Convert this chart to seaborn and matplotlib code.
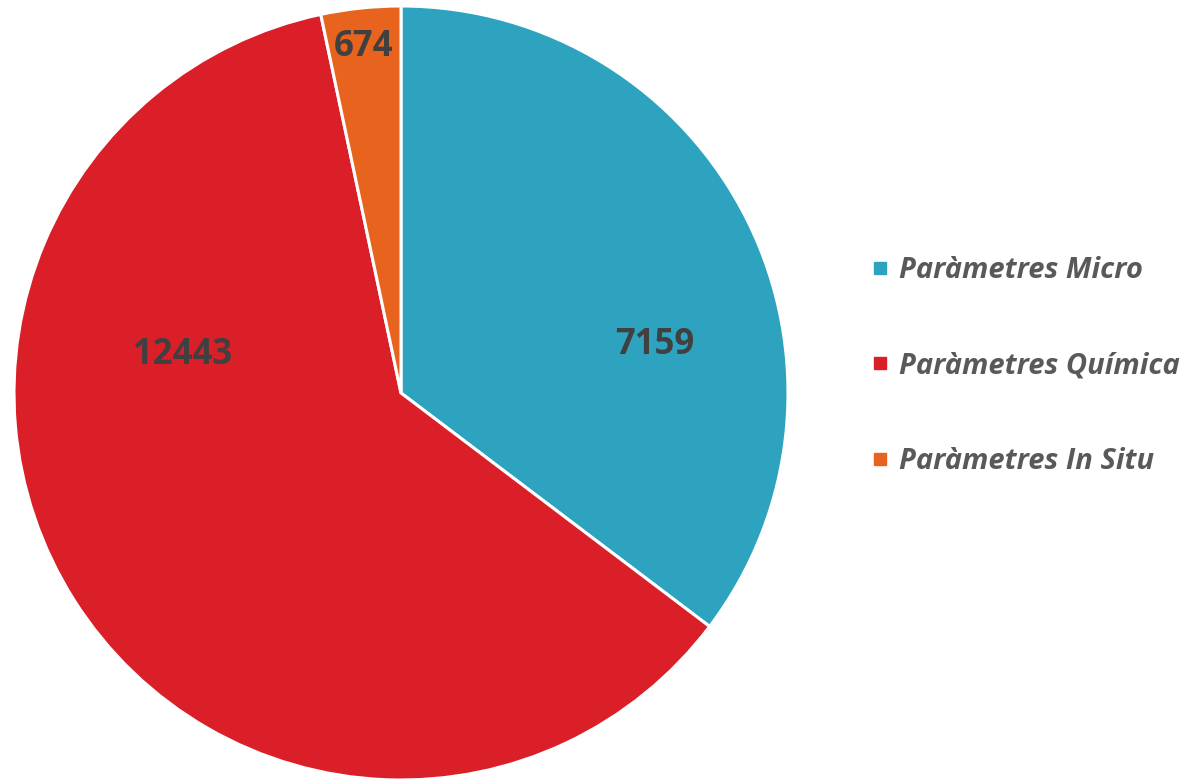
import matplotlib
matplotlib.use("Agg")
import matplotlib.pyplot as plt
from matplotlib.lines import Line2D
import seaborn as sns

# ==================================================
# DATA
# ==================================================
categories = ["Paràmetres Micro", "Paràmetres Química", "Paràmetres In Situ"]
values     = [7159, 12443, 674]
colors     = ["#2EA3C0", "#DA1F28", "#E8641E"]

# label anchors (Excel places them off the mid-angle)
label_pos = [(0.656, 0.124), (-0.563, 0.098), (-0.096, 0.894)]

sns.set_theme(style="white")
plt.rcParams["font.family"] = ["Open Sans", "DejaVu Sans"]

fig = plt.figure(figsize=(11.93, 7.79), dpi=100)
ax = fig.add_axes([14 / 1193, -1 / 779, 774 / 1193, 774 / 779])

wedges, _ = ax.pie(values, colors=colors, startangle=90, counterclock=False,
                   radius=1.0,
                   wedgeprops=dict(edgecolor="white", linewidth=2.2))
ax.set_xlim(-1, 1); ax.set_ylim(-1, 1)
ax.set_aspect("equal")
ax.axis("off")

for v, (x, y) in zip(values, label_pos):
    ax.text(x, y, str(v), ha="center", va="center", fontsize=25,
            fontweight="bold", color="#404040")

handles = [Line2D([], [], marker="s", linestyle="", color=c, markersize=9)
           for c in colors]
fig.legend(handles, categories, loc="center left",
           bbox_to_anchor=(846 / 1193, (779 - 366) / 779),
           frameon=False, handlelength=0.55, handletextpad=0.35,
           labelspacing=2.28,
           prop=dict(family=["Open Sans", "DejaVu Sans"], size=21,
                     weight="bold", style="italic"),
           labelcolor="#595959")

fig.savefig("out.png", dpi=100)
